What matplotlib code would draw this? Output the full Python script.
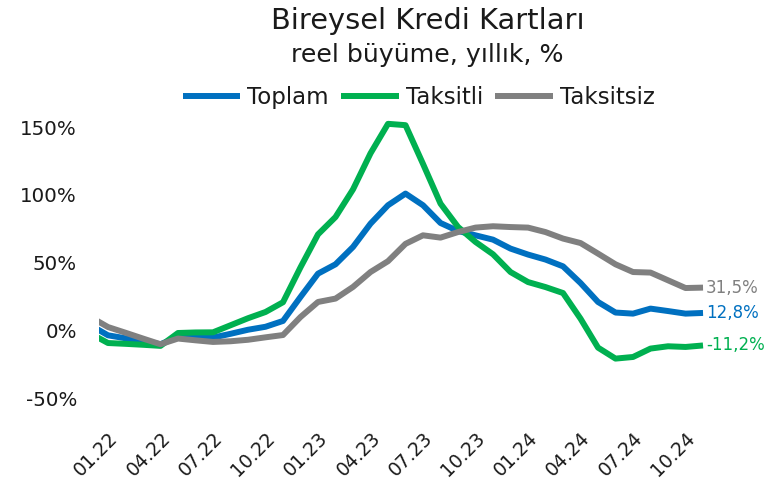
import matplotlib
matplotlib.use("Agg")
import matplotlib.pyplot as plt

# Veriler (12.21 - 11.24, aylık; 12.21 sadece eksen kenarında görünüyor)
months = ["12.21",
          "01.22", "02.22", "03.22", "04.22", "05.22", "06.22", "07.22", "08.22", "09.22", "10.22", "11.22", "12.22",
          "01.23", "02.23", "03.23", "04.23", "05.23", "06.23", "07.23", "08.23", "09.23", "10.23", "11.23", "12.23",
          "01.24", "02.24", "03.24", "04.24", "05.24", "06.24", "07.24", "08.24", "09.24", "10.24", "11.24"]
toplam = [3.7,
          -3.7, -5.9, -8.1, -10.3, -4.9, -5.4, -5.4, -2.6, 0.4, 2.6, 6.9, 24.6,
          41.8, 48.7, 61.5, 78.7, 92.3, 100.9, 92.3, 79.2, 73.3, 70.1, 66.9, 60.3,
          55.9, 52.2, 47.2, 34.9, 20.9, 13.1, 12.3, 16.0, 14.2, 12.3, 12.8]
taksitli = [-2.4,
            -9.4, -10.0, -10.7, -11.5, -2.0, -1.6, -1.5, 3.7, 8.9, 13.5, 20.7, 46.5,
            70.8, 83.6, 104.0, 130.6, 152.4, 151.4, 122.8, 93.5, 76.3, 65.2, 56.1, 43.0,
            35.6, 31.9, 27.5, 8.6, -12.8, -20.9, -19.7, -13.5, -11.8, -12.3, -11.2]
taksitsiz = [9.8,
             2.4, -1.8, -6.1, -10.3, -6.1, -7.4, -8.6, -8.1, -7.0, -5.2, -3.5, 9.8,
             20.9, 23.4, 32.0, 43.0, 51.0, 63.8, 70.1, 68.4, 72.5, 75.8, 76.8, 76.2,
             75.8, 72.5, 67.7, 64.4, 56.6, 48.7, 43.0, 42.6, 36.9, 31.2, 31.5]
end_labels = ["12,8%", "-11,2%", "31,5%"]
y_ticks = [-50, 0, 50, 100, 150]

renkler = {"Toplam": "#0070C0", "Taksitli": "#00B050", "Taksitsiz": "#808080"}
seriler = {"Toplam": toplam, "Taksitli": taksitli, "Taksitsiz": taksitsiz}
yazi_rengi = "#1a1a1a"

plt.rcParams["font.family"] = ["DejaVu Sans"]

fig = plt.figure(figsize=(7.64, 4.79), dpi=100)
ax = fig.add_axes([0.1299, 0.1549, 0.8132, 0.6081])

x = list(range(-1, len(months) - 1))
for (name, vals), lab in zip(seriler.items(), end_labels):
    ax.plot(x, vals, color=renkler[name], lw=4.3, label=name,
            solid_joinstyle="round", solid_capstyle="butt")
    ax.annotate(lab, (x[-1], vals[-1]), xytext=(2, 0), textcoords="offset points",
                color=renkler[name], fontsize=12, va="center", ha="left",
                annotation_clip=False)

ax.set_xlim(-0.5, 35)
ax.set_ylim(-55, 160)
ax.set_yticks(y_ticks)
ax.set_yticklabels([f"{v}%" for v in y_ticks], fontsize=14.3, color=yazi_rengi)
tick_pos = list(range(0, 34, 3))
ax.set_xticks(tick_pos)
ax.set_xticklabels([months[i + 1] for i in tick_pos], rotation=45, ha="right",
                   va="top", rotation_mode="anchor", fontsize=13.5, color=yazi_rengi)
ax.tick_params(length=0, axis="y", pad=16)
ax.tick_params(length=0, axis="x", pad=17)
for s in ax.spines.values():
    s.set_visible(False)

fig.text(0.5596, 0.9395, "Bireysel Kredi Kartları", ha="center", va="baseline",
         fontsize=20.8, color=yazi_rengi)
fig.text(0.5596, 0.8706, "reel büyüme, yıllık, %", ha="center", va="baseline",
         fontsize=18.2, color=yazi_rengi)
fig.legend(loc="center", bbox_to_anchor=(0.548, 0.797), ncol=3, frameon=False,
           fontsize=16.5, handlelength=2.5, handletextpad=0.3, columnspacing=0.55,
           labelcolor=yazi_rengi)

fig.savefig("out.png", dpi=100)
